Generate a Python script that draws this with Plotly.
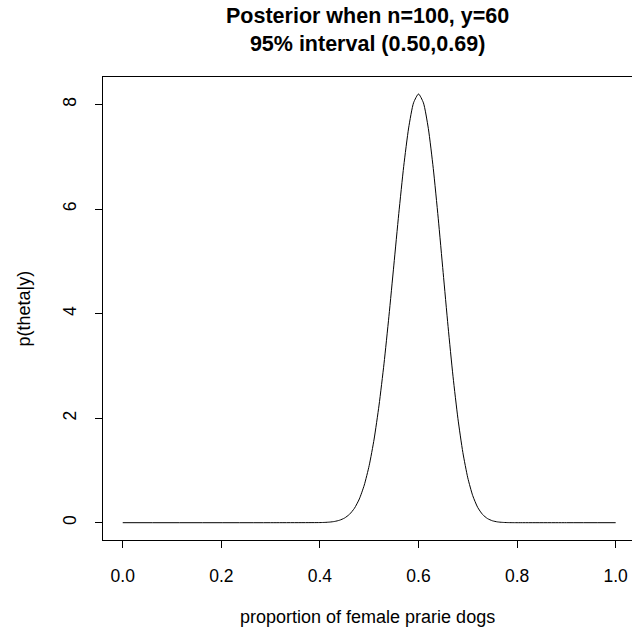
import plotly.graph_objects as go

# Posterior density p(theta|y)
theta = [0.0, 0.30, 0.40, 0.41, 0.42, 0.43, 0.44, 0.45, 0.46, 0.47, 0.48, 0.49,
         0.50, 0.51, 0.52, 0.53, 0.54, 0.55, 0.56, 0.57, 0.58, 0.59,
         0.60, 0.61, 0.62, 0.63, 0.64, 0.65, 0.66, 0.67, 0.68, 0.69,
         0.70, 0.71, 0.72, 0.73, 0.74, 0.75, 0.76, 0.77, 0.78, 0.79, 0.80, 0.90, 1.0]
density = [0.0, 0.0, 0.0025, 0.0055, 0.0119, 0.0243, 0.0476, 0.0891, 0.160, 0.275, 0.454, 0.720,
           1.095, 1.601, 2.251, 3.040, 3.949, 4.929, 5.914, 6.819, 7.553, 8.035,
           8.203, 8.033, 7.540, 6.776, 5.826, 4.787, 3.752, 2.802, 1.991, 1.343,
           0.858, 0.518, 0.294, 0.157, 0.0786, 0.0366, 0.0158, 0.0063, 0.0023, 0.0008, 0.0002, 0.0, 0.0]

x_ticks = [0.0, 0.2, 0.4, 0.6, 0.8, 1.0]
x_tick_labels = ["0.0", "0.2", "0.4", "0.6", "0.8", "1.0"]
y_ticks = [0, 2, 4, 6, 8]
y_tick_labels = ["0", "2", "4", "6", "8"]

title_lines = ["Posterior when n=100, y=60", "95% interval (0.50,0.69)"]
x_label = "proportion of female prarie dogs"
y_label = "p(theta|y)"

FONT = "Liberation Sans, Arial, Helvetica, sans-serif"
W, H = 632, 631
ML, MT, MB, MR = 103, 77, 91, 0

fig = go.Figure()
fig.add_trace(go.Scatter(x=theta, y=density, mode="lines",
                         line=dict(color="black", width=1, shape="spline", smoothing=0.6),
                         hoverinfo="skip", showlegend=False))

axis_common = dict(showgrid=False, zeroline=False, ticks="outside", ticklen=7,
                   tickwidth=1, tickcolor="black", linecolor="black", linewidth=1,
                   showline=True, tickfont=dict(family=FONT, size=17.5, color="black"))

fig.update_xaxes(range=[-0.04, 1.0331], tickvals=x_ticks, ticktext=x_tick_labels,
                 mirror=True, ticklabelstandoff=13, **axis_common)
fig.update_yaxes(range=[-0.331, 8.528], tickvals=y_ticks, ticktext=y_tick_labels,
                 tickangle=-90, ticklabelstandoff=12, **axis_common)

annotations = [
    dict(text="<b>" + "<br>".join(title_lines) + "</b>", xref="paper", yref="paper",
         x=0.5, y=1, xanchor="center", yanchor="middle", yshift=MT - 30, showarrow=False,
         font=dict(family=FONT, size=21.5, color="black")),
    dict(text=x_label, xref="paper", yref="paper", x=0.5, y=0,
         xanchor="center", yanchor="middle", yshift=-77, showarrow=False,
         font=dict(family=FONT, size=18, color="black")),
    dict(text=y_label, xref="paper", yref="paper", x=0, y=0.5, textangle=-90,
         xanchor="center", yanchor="middle", xshift=23 - ML, showarrow=False,
         font=dict(family=FONT, size=18, color="black")),
]

fig.update_layout(width=W, height=H, margin=dict(l=ML, r=MR, t=MT, b=MB, pad=0),
                  paper_bgcolor="white", plot_bgcolor="white",
                  annotations=annotations, showlegend=False)

fig.write_html("out.html", config={"displayModeBar": False},
               post_script="document.body.style.margin='0';")
